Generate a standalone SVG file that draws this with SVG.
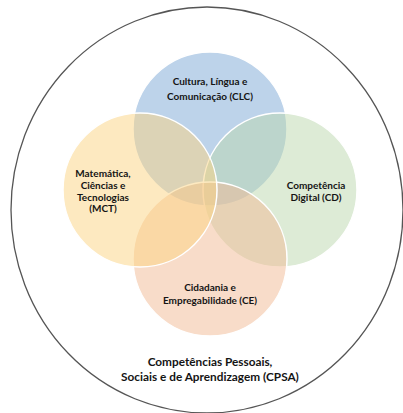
<svg xmlns="http://www.w3.org/2000/svg" width="403" height="413" viewBox="0 0 403 413">
<style>
.venn{stroke:#ffffff;stroke-width:1.5;fill-opacity:0.5}
.lbl{font-family:Lato,"Liberation Sans",sans-serif;font-weight:bold;font-size:10px;fill:#141414;text-anchor:middle}
.big{font-size:11.8px}
</style>
<rect width="403" height="413" fill="#ffffff"/>
<g id="cpsa">
<ellipse cx="207" cy="210" rx="196" ry="203" fill="none" stroke="#555555" stroke-width="1.3"/>
<text class="lbl big" x="210" y="366">Competências Pessoais,</text>
<text class="lbl big" x="210" y="381">Sociais e de Aprendizagem (CPSA)</text>
</g>
<g id="clc">
<circle class="venn" cx="210" cy="129" r="77" fill="#7ba7d5"/>
<text class="lbl" x="210" y="85">Cultura, Língua e</text>
<text class="lbl" x="210" y="100">Comunicação (CLC)</text>
</g>
<g id="cd">
<circle class="venn" cx="280" cy="190" r="77" fill="#bbd7ad"/>
<text class="lbl" x="316" y="189">Competência</text>
<text class="lbl" x="316" y="201">Digital (CD)</text>
</g>
<g id="ce">
<circle class="venn" cx="210" cy="259" r="77" fill="#f1b993"/>
<text class="lbl" x="210" y="291">Cidadania e</text>
<text class="lbl" x="210" y="304">Empregabilidade (CE)</text>
</g>
<g id="mct">
<circle class="venn" cx="140" cy="190" r="77" fill="#fbd381"/>
<text class="lbl" x="103" y="177">Matemática,</text>
<text class="lbl" x="103" y="189">Ciências e</text>
<text class="lbl" x="103" y="201">Tecnologias</text>
<text class="lbl" x="103" y="212">(MCT)</text>
</g>
<g id="connectors"/>
</svg>
